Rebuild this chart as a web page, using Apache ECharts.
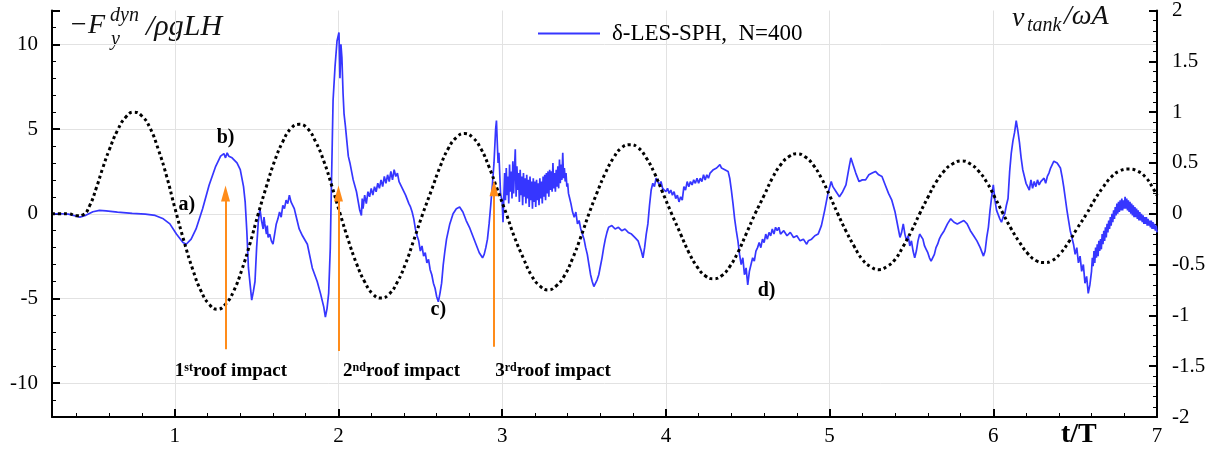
<!DOCTYPE html>
<html>
<head>
<meta charset="utf-8">
<script src="https://cdn.jsdelivr.net/npm/echarts@6/dist/echarts.min.js"></script>
<style>
  html, body { margin: 0; padding: 0; background: #fff; }
  #chart { width: 1221px; height: 454px; }
</style>
</head>
<body>
<div id="chart"></div>
<script>
// Dynamic lateral force on the tank (left axis), δ-LES-SPH, N=400
const forceSeries = [
  [0.25,0],[0.30,0.0],[0.35,-0.02],[0.40,-0.15],[0.42,-0.2],[0.45,-0.12],[0.50,0.12],[0.54,0.2],[0.58,0.17],
  [0.65,0.1],[0.74,0.02],[0.82,-0.02],[0.88,-0.1],[0.93,-0.3],[0.97,-0.6],[1.01,-1.2],[1.05,-1.7],[1.07,-1.8],
  [1.10,-1.5],[1.13,-0.9],[1.17,0.3],[1.21,1.7],[1.25,2.8],[1.28,3.4],[1.30,3.55],[1.31,3.3],[1.32,3.6],[1.33,3.4],
  [1.34,3.5],[1.35,3.3],[1.36,3.4],[1.38,3.0],[1.40,2.6],[1.42,1.6],[1.43,0.7],[1.44,-1.0],[1.45,-3.2],[1.47,-5.1],
  [1.48,-4.6],[1.49,-4.0],[1.50,-2.0],[1.51,-0.5],[1.52,0.3],[1.53,-0.4],[1.54,-0.9],[1.545,-0.2],[1.55,-0.6],
  [1.56,-1.2],[1.565,-0.7],[1.57,-1.4],[1.58,-1.2],[1.59,-1.6],[1.60,-1.8],[1.61,-1.2],[1.62,-0.6],[1.63,-0.3],
  [1.64,0.1],[1.65,-0.2],[1.66,0.5],[1.67,0.3],[1.68,0.8],[1.69,0.6],[1.70,1.1],[1.71,0.7],[1.72,0.8],[1.73,0.3],
  [1.74,-0.1],[1.76,-0.9],[1.78,-1.3],[1.81,-1.8],[1.84,-3.2],[1.87,-4.0],[1.89,-4.7],[1.91,-5.5],[1.92,-6.1],
  [1.93,-5.6],[1.94,-4.7],[1.95,-2.0],[1.955,0.7],[1.962,4.2],[1.967,6.7],[1.979,8.7],[1.991,10.2],[2.003,10.7],
  [2.009,8.0],[2.015,10.0],[2.021,9.2],[2.028,7.1],[2.034,5.9],[2.042,5.2],[2.052,4.2],[2.06,3.4],[2.07,3.0],
  [2.09,2.0],[2.11,1.3],[2.13,0.2],[2.14,-0.1],[2.145,0.9],[2.15,0.3],[2.16,1.1],[2.17,0.6],[2.18,1.3],[2.19,1.0],
  [2.20,1.5],[2.21,1.1],[2.22,1.6],[2.23,1.3],[2.24,1.8],[2.25,1.5],[2.26,2.0],[2.27,1.6],[2.28,2.2],[2.29,1.8],
  [2.30,2.3],[2.31,1.9],[2.32,2.5],[2.33,2.0],[2.34,2.6],[2.35,2.2],[2.36,2.4],[2.37,1.9],[2.38,2.0],[2.39,1.5],
  [2.40,1.6],[2.41,1.1],[2.42,1.0],[2.43,0.6],[2.44,0.4],[2.45,0.1],[2.46,-0.3],[2.47,-0.9],[2.48,-1.3],[2.49,-1.6],
  [2.50,-2.2],[2.51,-1.9],[2.52,-2.5],[2.53,-2.3],[2.54,-2.9],[2.55,-2.7],[2.56,-3.3],[2.57,-3.6],[2.58,-4.1],
  [2.59,-4.4],[2.60,-4.9],[2.61,-5.2],[2.62,-4.7],[2.63,-4.1],[2.64,-3.0],[2.65,-2.2],[2.66,-1.5],[2.68,-0.6],
  [2.70,0.0],[2.72,0.3],[2.74,0.4],[2.76,0.1],[2.78,-0.4],[2.80,-0.8],[2.82,-1.3],[2.84,-1.8],[2.86,-2.3],[2.88,-2.6],
  [2.89,-2.4],[2.90,-2.0],[2.91,-1.5],[2.92,-0.6],[2.93,0.5],[2.94,1.7],[2.95,3.0],[2.96,5.0],[2.965,5.5],[2.97,4.2],
  [2.975,3.0],[2.98,3.6],[2.99,1.2],[3.00,0.7],[3.005,-0.5],
  [3.010,1.0],[3.015,2.4],[3.020,0.8],[3.025,2.7],[3.030,1.1],[3.035,2.2],[3.040,0.6],[3.045,2.9],[3.050,1.3],
  [3.055,2.5],[3.060,0.9],[3.065,3.1],[3.070,1.2],[3.075,2.6],[3.080,3.8],[3.085,1.0],[3.090,2.8],[3.095,1.4],
  [3.100,2.4],[3.105,0.7],[3.110,2.6],[3.115,1.1],[3.120,2.2],[3.125,0.5],[3.130,2.4],[3.135,1.0],[3.140,2.1],
  [3.145,0.6],[3.150,2.3],[3.155,0.9],[3.160,2.0],[3.165,0.4],[3.170,2.2],[3.175,0.8],[3.180,1.9],[3.185,0.3],
  [3.190,2.1],[3.195,0.7],[3.200,1.9],[3.205,0.4],[3.210,2.0],[3.215,0.8],[3.220,1.8],[3.225,0.5],[3.230,2.1],
  [3.235,0.9],[3.240,1.9],[3.245,0.6],[3.250,2.2],[3.255,1.0],[3.260,2.3],[3.265,0.8],[3.270,2.4],[3.275,1.2],
  [3.280,2.5],[3.285,1.0],[3.290,2.6],[3.295,1.4],[3.300,2.5],[3.305,1.3],[3.310,3.0],[3.315,1.5],[3.320,2.4],
  [3.325,1.3],[3.330,2.6],[3.335,1.6],[3.340,2.8],[3.345,1.5],[3.350,3.2],[3.355,1.8],[3.360,2.9],[3.365,2.0],
  [3.370,3.6],[3.375,2.1],[3.380,2.7],[3.385,1.9],[3.390,2.4],[3.395,1.6],[3.400,1.8],[3.405,1.2],
  [3.41,1.0],[3.42,0.6],[3.43,0.1],[3.44,-0.2],[3.45,0.1],
  [3.46,-0.6],[3.47,-0.4],[3.48,-0.9],[3.49,-1.0],[3.50,-1.5],[3.51,-2.0],[3.52,-2.4],[3.53,-3.0],[3.54,-3.6],
  [3.55,-4.0],[3.56,-4.3],[3.57,-4.4],[3.58,-3.9],[3.59,-3.6],[3.60,-3.1],[3.61,-2.6],[3.62,-2.0],[3.63,-1.5],
  [3.64,-1.1],[3.65,-0.8],[3.67,-0.7],[3.69,-0.9],[3.71,-0.8],[3.73,-1.0],[3.75,-0.9],[3.77,-1.1],[3.79,-1.2],
  [3.81,-1.4],[3.83,-1.6],[3.85,-2.2],[3.86,-2.6],[3.87,-2.0],[3.88,-1.2],[3.89,-0.6],[3.90,0.5],[3.91,1.4],
  [3.92,1.8],[3.93,1.6],[3.94,2.1],[3.95,1.9],[3.96,1.7],[3.97,1.9],[3.98,1.5],[3.99,1.6],[4.00,1.3],[4.01,1.5],
  [4.02,1.2],[4.03,1.4],[4.04,1.1],[4.05,1.3],[4.06,0.9],[4.07,1.1],[4.08,0.7],[4.09,1.0],[4.10,0.8],[4.11,1.6],
  [4.12,1.4],[4.13,1.9],[4.14,1.6],[4.15,1.9],[4.16,1.7],[4.17,2.0],[4.18,1.8],[4.19,2.1],[4.20,1.8],[4.21,2.1],
  [4.22,1.9],[4.23,2.3],[4.24,2.0],[4.25,2.3],[4.26,2.1],[4.27,2.4],[4.28,2.3],[4.29,2.6],[4.30,2.5],[4.31,2.7],
  [4.32,2.6],[4.33,2.9],[4.34,2.7],[4.35,2.7],[4.36,2.6],[4.37,2.7],[4.38,2.5],[4.39,2.1],[4.40,1.4],[4.41,0.6],
  [4.42,-0.3],[4.43,-1.0],[4.44,-1.6],[4.45,-2.4],[4.46,-3.0],[4.47,-2.6],[4.48,-3.6],[4.49,-3.2],[4.50,-4.2],
  [4.51,-3.4],[4.52,-3.0],[4.53,-2.6],[4.54,-2.8],[4.55,-2.2],[4.56,-2.0],[4.57,-1.7],[4.58,-2.0],[4.59,-1.5],
  [4.60,-1.7],[4.61,-1.2],[4.62,-1.5],[4.63,-1.1],[4.64,-1.3],[4.65,-0.9],[4.66,-1.2],[4.67,-0.8],[4.68,-1.0],
  [4.69,-0.8],[4.70,-1.2],[4.72,-1.0],[4.74,-1.3],[4.76,-1.1],[4.78,-1.4],[4.80,-1.3],[4.82,-1.6],[4.84,-1.5],
  [4.86,-1.8],[4.87,-1.6],[4.89,-1.5],[4.91,-1.3],[4.93,-1.2],[4.95,-0.7],[4.97,0.2],[4.99,1.2],[5.01,1.9],
  [5.02,1.6],[5.04,1.3],[5.06,1.0],[5.08,1.3],[5.10,1.7],[5.12,2.8],[5.13,3.3],[5.14,3.0],[5.16,2.4],[5.18,1.9],
  [5.20,2.0],[5.22,2.0],[5.24,2.3],[5.26,2.4],[5.28,2.5],[5.30,2.3],[5.32,2.2],[5.34,1.7],[5.36,1.2],[5.38,0.8],
  [5.40,0.1],[5.41,-0.4],[5.42,-0.9],[5.43,-1.4],[5.44,-1.1],[5.45,-0.6],[5.46,-1.2],[5.47,-1.6],[5.48,-1.3],
  [5.49,-1.9],[5.50,-1.6],[5.51,-2.2],[5.52,-2.6],[5.53,-2.2],[5.54,-1.6],[5.55,-1.2],[5.56,-1.3],[5.57,-1.5],
  [5.58,-1.9],[5.59,-2.1],[5.60,-2.3],[5.61,-2.6],[5.62,-2.8],[5.63,-2.7],[5.64,-2.4],[5.65,-2.0],[5.66,-1.8],
  [5.67,-1.5],[5.68,-1.3],[5.70,-1.0],[5.72,-0.6],[5.74,-0.3],[5.76,-0.5],[5.78,-0.6],[5.80,-0.5],[5.82,-0.4],
  [5.84,-0.6],[5.86,-1.0],[5.88,-1.3],[5.90,-1.6],[5.92,-2.0],[5.94,-2.5],[5.95,-2.2],[5.96,-1.4],[5.97,-0.8],
  [5.98,0.2],[5.99,1.0],[6.00,1.7],[6.01,0.8],[6.02,0.2],[6.03,0.1],[6.04,-0.3],[6.05,-0.5],[6.06,-0.2],[6.07,0.0],
  [6.08,0.5],[6.09,0.9],[6.10,2.5],[6.11,3.6],[6.12,4.3],[6.13,4.8],[6.14,5.5],[6.15,4.9],[6.16,4.2],[6.17,3.3],
  [6.18,2.6],[6.19,2.2],[6.20,1.8],[6.21,1.6],[6.22,1.4],[6.23,2.0],[6.24,1.5],[6.25,1.9],[6.26,1.6],[6.27,2.0],
  [6.28,1.7],[6.29,1.9],[6.30,1.8],[6.31,2.1],[6.32,1.8],[6.33,2.2],[6.34,2.4],[6.35,2.7],[6.36,2.9],[6.37,3.1],
  [6.38,3.2],[6.39,3.0],[6.40,3.1],[6.41,2.7],[6.42,2.2],[6.43,1.6],[6.44,0.9],[6.45,0.2],[6.46,-0.4],[6.47,-1.0],
  [6.48,-1.4],[6.49,-1.8],[6.50,-2.4],[6.51,-2.0],[6.52,-2.9],[6.53,-2.5],[6.54,-3.4],[6.55,-3.0],[6.56,-4.1],
  [6.57,-3.7],[6.58,-4.7],[6.59,-4.2],
  [6.600,-3.4],[6.605,-2.6],[6.610,-3.1],[6.615,-2.2],[6.620,-2.9],[6.625,-2.0],[6.630,-2.6],[6.635,-1.8],
  [6.640,-2.5],[6.645,-1.6],[6.650,-2.2],[6.655,-1.5],[6.660,-2.1],[6.665,-1.2],[6.670,-1.8],[6.675,-1.0],
  [6.680,-1.6],[6.685,-0.8],[6.690,-1.4],[6.695,-0.6],[6.700,-1.1],[6.705,-0.4],[6.710,-0.9],[6.715,-0.2],
  [6.720,-0.7],[6.725,0.0],[6.730,-0.5],[6.735,0.2],[6.740,-0.3],[6.745,0.4],[6.750,-0.1],[6.755,0.6],
  [6.760,0.0],[6.765,0.7],[6.770,0.1],[6.775,0.8],[6.780,0.2],[6.785,0.9],[6.790,0.2],[6.795,0.8],
  [6.800,0.3],[6.805,1.0],[6.810,0.3],[6.815,0.9],[6.820,0.2],[6.825,0.8],[6.830,0.1],[6.835,0.7],
  [6.840,0.0],[6.845,0.6],[6.850,-0.1],[6.855,0.5],[6.860,-0.2],[6.865,0.4],[6.870,-0.2],[6.875,0.3],
  [6.880,-0.3],[6.885,0.2],[6.890,-0.4],[6.895,0.1],[6.900,-0.4],[6.905,0.0],[6.910,-0.5],[6.915,-0.1],
  [6.920,-0.6],[6.925,-0.2],[6.930,-0.6],[6.935,-0.2],[6.940,-0.7],[6.945,-0.3],[6.950,-0.7],[6.955,-0.4],
  [6.960,-0.8],[6.965,-0.4],[6.970,-0.9],[6.975,-0.5],[6.980,-0.9],[6.985,-0.6],[6.990,-1.0],[6.995,-0.7],
  [7.000,-1.1]
];

// Tank velocity v_tank/ωA (right axis)
const tankVelocity = [
  [0.25,0],[0.30,0],[0.35,0],[0.40,-0.02],[0.44,-0.01],[0.48,0.08],[0.52,0.25],[0.56,0.45],[0.60,0.63],[0.65,0.82],
  [0.70,0.95],[0.75,1.00],[0.80,0.96],[0.85,0.84],[0.90,0.63],[0.95,0.37],[1.00,0.06],
  [1.06,-0.29],[1.11,-0.55],[1.16,-0.76],[1.21,-0.89],[1.26,-0.94],[1.31,-0.89],[1.36,-0.76],[1.41,-0.55],[1.46,-0.29],[1.51,0],
  [1.56,0.27],[1.61,0.52],[1.66,0.71],[1.71,0.84],[1.76,0.88],[1.81,0.84],[1.86,0.71],[1.91,0.52],[1.96,0.27],[2.01,0],
  [2.06,-0.26],[2.11,-0.49],[2.16,-0.67],[2.21,-0.79],[2.26,-0.83],[2.31,-0.79],[2.36,-0.67],[2.41,-0.49],[2.46,-0.26],[2.515,0],
  [2.57,0.24],[2.62,0.46],[2.67,0.64],[2.72,0.75],[2.77,0.79],[2.82,0.75],[2.87,0.64],[2.92,0.46],[2.97,0.24],[3.025,0],
  [3.075,-0.23],[3.13,-0.44],[3.18,-0.61],[3.23,-0.71],[3.28,-0.75],[3.33,-0.71],[3.38,-0.61],[3.43,-0.44],[3.48,-0.23],[3.53,0],
  [3.58,0.21],[3.63,0.40],[3.68,0.55],[3.73,0.65],[3.78,0.68],[3.83,0.65],[3.88,0.55],[3.93,0.40],[3.98,0.21],[4.035,0],
  [4.09,-0.20],[4.14,-0.38],[4.19,-0.52],[4.24,-0.61],[4.29,-0.64],[4.34,-0.61],[4.39,-0.52],[4.44,-0.38],[4.49,-0.20],[4.545,0],
  [4.60,0.18],[4.65,0.35],[4.70,0.48],[4.75,0.56],[4.80,0.59],[4.85,0.56],[4.90,0.48],[4.95,0.35],[5.00,0.18],[5.05,0],
  [5.10,-0.17],[5.15,-0.32],[5.20,-0.45],[5.25,-0.52],[5.30,-0.55],[5.35,-0.52],[5.40,-0.45],[5.45,-0.32],[5.50,-0.17],[5.55,0],
  [5.60,0.16],[5.65,0.31],[5.70,0.42],[5.75,0.49],[5.81,0.52],[5.86,0.49],[5.91,0.42],[5.96,0.31],[6.01,0.16],[6.06,0],
  [6.11,-0.15],[6.16,-0.28],[6.21,-0.39],[6.26,-0.46],[6.31,-0.48],[6.36,-0.46],[6.41,-0.39],[6.46,-0.28],[6.51,-0.15],[6.57,0],
  [6.62,0.14],[6.67,0.26],[6.72,0.36],[6.77,0.42],[6.83,0.44],[6.88,0.42],[6.93,0.36],[6.98,0.24],[7.00,0.18]
];

// Roof impact arrows: [t, tail value, head value] in force units
const impactArrows = [
  [1.31, -8.0, 1.2],
  [2.00, -8.1, 1.2],
  [2.95, -7.85, 1.5]
];

// Roof impact captions: [t, value, ordinal, suffix]
const impactLabels = [
  [1.00, -9.3, '1', 'st'],
  [2.028, -9.3, '2', 'nd'],
  [2.957, -9.3, '3', 'rd']
];

// Snapshot markers: [t, value, text]
const snapshotLabels = [
  [1.073, 0.52, 'a)'],
  [1.31, 4.48, 'b)'],
  [2.61, -5.7, 'c)'],
  [4.615, -4.53, 'd)']
];

const seriesName = 'δ-LES-SPH,  N=400';
const serif = '"Liberation Serif", "DejaVu Serif", serif';
const orange = '#ff8c1a';
const blue = '#3636ff';

const chart = echarts.init(document.getElementById('chart'), null, { renderer: 'canvas' });

const axisCommon = {
  axisLine: { show: true, onZero: false, lineStyle: { color: '#000', width: 2 } },
  axisTick: { show: true, inside: true, length: 8, lineStyle: { color: '#000', width: 2 } },
  minorTick: { show: true, splitNumber: 5, length: 4, lineStyle: { color: '#000', width: 1 } },
  axisLabel: { color: '#000', fontFamily: serif, fontSize: 21 }
};

const option = {
  animation: false,
  backgroundColor: '#fff',
  textStyle: { fontFamily: serif },
  grid: { left: 52, right: 64, top: 5, bottom: 37, containLabel: false },
  legend: {
    left: 533, top: 17,
    itemWidth: 62, itemHeight: 2, itemGap: 0,
    data: [{ name: seriesName, icon: 'rect', itemStyle: { color: blue } }],
    textStyle: { fontFamily: serif, fontSize: 23, color: '#000', padding: [0, 0, 0, 7] }
  },
  xAxis: {
    type: 'value', min: 0.25, max: 7,
    ...axisCommon,
    axisLabel: { ...axisCommon.axisLabel, margin: 9, showMinLabel: false },
    splitLine: { show: true, showMinLine: false, showMaxLine: false, lineStyle: { color: '#e2e2e2', width: 1 } }
  },
  yAxis: [
    {
      type: 'value', min: -12, max: 12, position: 'left',
      ...axisCommon,
      axisLabel: { ...axisCommon.axisLabel, margin: 14, showMinLabel: false, showMaxLabel: false },
      splitLine: { show: true, showMinLine: false, showMaxLine: false, lineStyle: { color: '#e2e2e2', width: 1 } }
    },
    {
      type: 'value', min: -2, max: 2, interval: 0.5, position: 'right',
      ...axisCommon,
      axisLabel: { ...axisCommon.axisLabel, margin: 15 },
      splitLine: { show: false }
    }
  ],
  series: [
    {
      name: seriesName,
      type: 'line',
      xAxisIndex: 0, yAxisIndex: 0,
      data: forceSeries,
      symbol: 'none',
      lineStyle: { color: blue, width: 1.7 },
      itemStyle: { color: blue },
      z: 2,
      markLine: {
        silent: true,
        symbol: ['none', 'triangle'],
        symbolSize: [9, 16],
        label: { show: false },
        lineStyle: { color: orange, width: 2, type: 'solid' },
        emphasis: { disabled: true },
        data: impactArrows.map(a => [{ coord: [a[0], a[1]] }, { coord: [a[0], a[2]] }])
      },
      markPoint: {
        silent: true,
        symbol: 'circle',
        symbolSize: 1,
        itemStyle: { color: 'rgba(0,0,0,0)' },
        data: [
          ...snapshotLabels.map(s => ({
            coord: [s[0], s[1]],
            label: {
              show: true, position: 'inside', formatter: s[2],
              color: '#000', fontFamily: serif, fontWeight: 'bold', fontSize: 20
            }
          })),
          ...impactLabels.map(s => ({
            coord: [s[0], s[1]],
            label: {
              show: true, position: 'inside', align: 'left', verticalAlign: 'middle',
              formatter: '{n|' + s[2] + '}{s|' + s[3] + '}{n|roof impact}',
              rich: {
                n: { fontFamily: serif, fontWeight: 'bold', fontSize: 19, color: '#000' },
                s: { fontFamily: serif, fontWeight: 'bold', fontSize: 12, color: '#000', verticalAlign: 'top' }
              }
            }
          }))
        ]
      }
    },
    {
      name: 'tank',
      type: 'line',
      xAxisIndex: 0, yAxisIndex: 1,
      data: tankVelocity,
      symbol: 'none',
      smooth: true,
      lineStyle: { color: '#000', width: 3, type: [3, 3] },
      z: 3
    }
  ],
  graphic: [
    // left axis title: −F_y^dyn / ρgLH
    { type: 'text', left: 69, top: 12, style: { text: '−F', font: 'italic 28px "Liberation Serif"', fill: '#111' } },
    { type: 'text', left: 110, top: 6, style: { text: 'dyn', font: 'italic 20px "Liberation Serif"', fill: '#111' } },
    { type: 'text', left: 111, top: 30, style: { text: 'y', font: 'italic 20px "Liberation Serif"', fill: '#111' } },
    { type: 'text', left: 146, top: 12, style: { text: '/ρgLH', font: 'italic 30px "Liberation Serif"', fill: '#111' } },
    // right axis title: v_tank / ωA
    { type: 'text', left: 1012, top: 5, style: { text: 'v', font: 'italic 28px "Liberation Serif"', fill: '#111' } },
    { type: 'text', left: 1027, top: 16, style: { text: 'tank', font: 'italic 20px "Liberation Serif"', fill: '#111' } },
    { type: 'text', left: 1064, top: 3, style: { text: '/ωA', font: 'italic 28px "Liberation Serif"', fill: '#111' } },
    // x axis title
    { type: 'text', left: 1061, top: 421, style: { text: 't/T', font: 'bold 28px "Liberation Serif"', fill: '#000' } }
  ]
};

chart.setOption(option);
</script>
</body>
</html>
